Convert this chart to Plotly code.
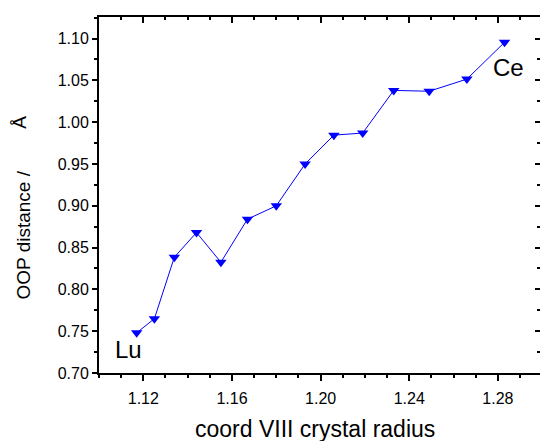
import plotly.graph_objects as go

# data
radius = [1.117, 1.125, 1.134, 1.144, 1.155, 1.167, 1.180, 1.193, 1.206, 1.219, 1.233, 1.249, 1.266, 1.283]
oop = [0.748, 0.765, 0.8385, 0.868, 0.8325, 0.884, 0.900, 0.950, 0.9845, 0.987, 1.038, 1.037, 1.0515, 1.0955]
x_ticks = [1.12, 1.16, 1.20, 1.24, 1.28]
x_tick_labels = ["1.12", "1.16", "1.20", "1.24", "1.28"]
y_ticks = [0.70, 0.75, 0.80, 0.85, 0.90, 0.95, 1.00, 1.05, 1.10]
y_tick_labels = ["0.70", "0.75", "0.80", "0.85", "0.90", "0.95", "1.00", "1.05", "1.10"]
labels = ["Lu", "Ce"]
label_pos = [(1.1132, 0.7278), (1.2850, 1.0651)]

XR = [1.10, 1.299]
YR = [0.70, 1.1258]
FONT = "Liberation Sans, Arial, sans-serif"

fig = go.Figure()
fig.add_trace(go.Scatter(
    x=radius, y=oop, mode="lines+markers",
    line=dict(color="#0000FF", width=1),
    marker=dict(symbol="triangle-down", size=10, color="#0000FF"),
    showlegend=False, hoverinfo="skip"))
# transparent trace to anchor top/right axes
fig.add_trace(go.Scatter(x=[radius[0]], y=[oop[0]], xaxis="x2", yaxis="y2",
                         mode="markers", marker=dict(color="rgba(0,0,0,0)", size=1),
                         showlegend=False, hoverinfo="skip"))

tick_font = dict(family=FONT, size=16, color="black")

fig.update_layout(
    template="none",
    width=540, height=441,
    margin=dict(l=98.5, r=0, t=16.7, b=67.7, pad=0, autoexpand=False),
    paper_bgcolor="white", plot_bgcolor="white",
    font=dict(family=FONT, color="black"),
    xaxis=dict(range=XR, showgrid=False, zeroline=False, automargin=False,
               showline=True, linecolor="black", linewidth=2,
               tickmode="array", tickvals=x_ticks, ticktext=x_tick_labels,
               ticks="outside", ticklen=6, tickwidth=1.5, tickcolor="black",
               tickfont=tick_font, ticklabelstandoff=4,
               minor=dict(ticks="outside", ticklen=3, tickwidth=1.5, tickcolor="black",
                          dtick=0.01, tick0=1.10)),
    yaxis=dict(range=YR, showgrid=False, zeroline=False, automargin=False,
               showline=True, linecolor="black", linewidth=2,
               tickmode="array", tickvals=y_ticks, ticktext=y_tick_labels,
               ticks="outside", ticklen=5, tickwidth=1.5, tickcolor="black",
               tickfont=tick_font,
               minor=dict(ticks="outside", ticklen=3, tickwidth=1.5, tickcolor="black",
                          dtick=0.025, tick0=0.70)),
    xaxis2=dict(range=XR, overlaying="x", side="top", anchor="y2", automargin=False,
                showgrid=False, zeroline=False,
                showline=True, linecolor="black", linewidth=2,
                tickmode="array", tickvals=x_ticks, showticklabels=False,
                ticks="inside", ticklen=6, tickwidth=1.5, tickcolor="black",
                minor=dict(ticks="inside", ticklen=3, tickwidth=1.5, tickcolor="black",
                           dtick=0.01, tick0=1.10)),
    yaxis2=dict(range=YR, overlaying="y", side="right", anchor="x2", automargin=False,
                showgrid=False, zeroline=False, showline=False,
                tickmode="array", tickvals=y_ticks, showticklabels=False,
                ticks="inside", ticklen=5, tickwidth=1.5, tickcolor="black",
                minor=dict(ticks="inside", ticklen=3, tickwidth=1.5, tickcolor="black",
                           dtick=0.025, tick0=0.70)),
)

for t, (lx, ly) in zip(labels, label_pos):
    fig.add_annotation(x=lx, y=ly, xref="x", yref="y", text=t, showarrow=False,
                       font=dict(family=FONT, size=24, color="black"),
                       xanchor="center", yanchor="middle", yshift=0)

# axis titles
fig.add_annotation(x=0.489, y=-0.158, xref="paper", yref="paper",
                   text="coord VIII crystal radius", showarrow=False,
                   font=dict(family=FONT, size=23, color="black"),
                   xanchor="center", yanchor="middle")
fig.add_annotation(x=-0.171, y=0.3878, xref="paper", yref="paper",
                   text="OOP distance /", showarrow=False, textangle=-90,
                   font=dict(family=FONT, size=19, color="black"),
                   xanchor="center", yanchor="middle")
fig.add_annotation(x=-0.182, y=0.7047, xref="paper", yref="paper",
                   text="Å", showarrow=False, textangle=-90,
                   font=dict(family=FONT, size=19, color="black"),
                   xanchor="center", yanchor="middle")

fig.write_html("out.html", config={"displayModeBar": False},
               post_script="document.body.style.margin='0';document.body.style.overflow='hidden';")
